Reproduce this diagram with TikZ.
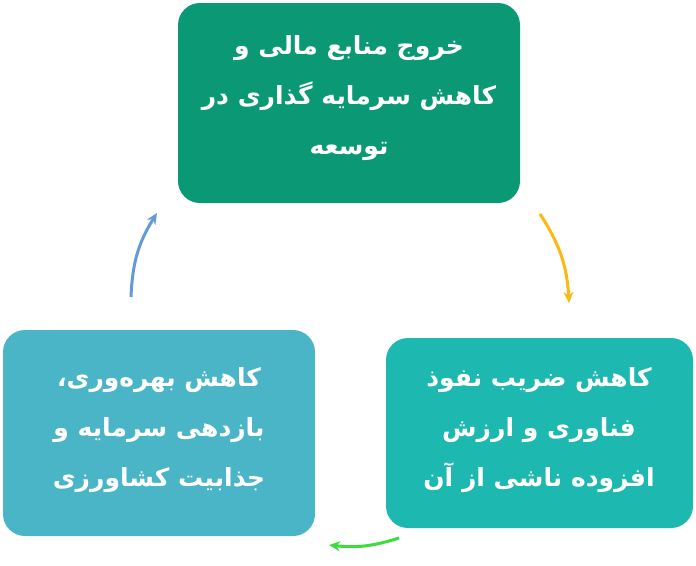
\documentclass[tikz,border=0pt]{standalone}
\usepackage{fontspec}
\newfontfamily\fa[Script=Arabic]{DejaVu Sans}
\usetikzlibrary{arrows.meta}
\TeXXeTstate=1
\tikzset{box/.style={rounded corners=22pt,text=white,align=center,font=\fa\bfseries\fontsize{25}{50}\selectfont},
  arr/.style={-{Stealth[length=11pt,width=10pt]},line width=3pt}}
\newcommand{\rtl}[1]{\beginR #1\endR}
\begin{document}
\begin{tikzpicture}[x=1pt,y=-1pt]
\useasboundingbox (0,0) rectangle (696,565);
\fill[box,fill={rgb,255:red,10;green,152;blue,117}] (178,3) rectangle (520,203);
\node[box] (top) at (349,98) {\rtl{خروج منابع مالی و}\\\rtl{کاهش سرمایه گذاری در}\\\rtl{توسعه}};
\fill[box,fill={rgb,255:red,29;green,184;blue,176}] (386,338) rectangle (693,528);
\node[box] (right) at (539,430) {\rtl{کاهش ضریب نفوذ}\\\rtl{فناوری و ارزش}\\\rtl{افزوده ناشی از آن}};
\fill[box,fill={rgb,255:red,75;green,181;blue,200}] (3,330) rectangle (315,536);
\node[box] (left) at (159,430) {\rtl{کاهش بهره‌وری،}\\\rtl{بازدهی سرمایه و}\\\rtl{جذابیت کشاورزی}};
\coordinate (y1) at (540,214); \coordinate (y2) at (569,303);
\coordinate (g1) at (399,538); \coordinate (g2) at (329,545);
\coordinate (b1) at (131,297); \coordinate (b2) at (157,213);
\draw[arr,color={rgb,255:red,250;green,185;blue,20}] (y1) to[bend left=15] (y2);
\draw[arr,color={rgb,255:red,60;green,220;blue,60}] (g1) to[bend left=12] (g2);
\draw[arr,color={rgb,255:red,100;green,155;blue,215}] (b1) to[bend left=15] (b2);
\end{tikzpicture}
\end{document}
